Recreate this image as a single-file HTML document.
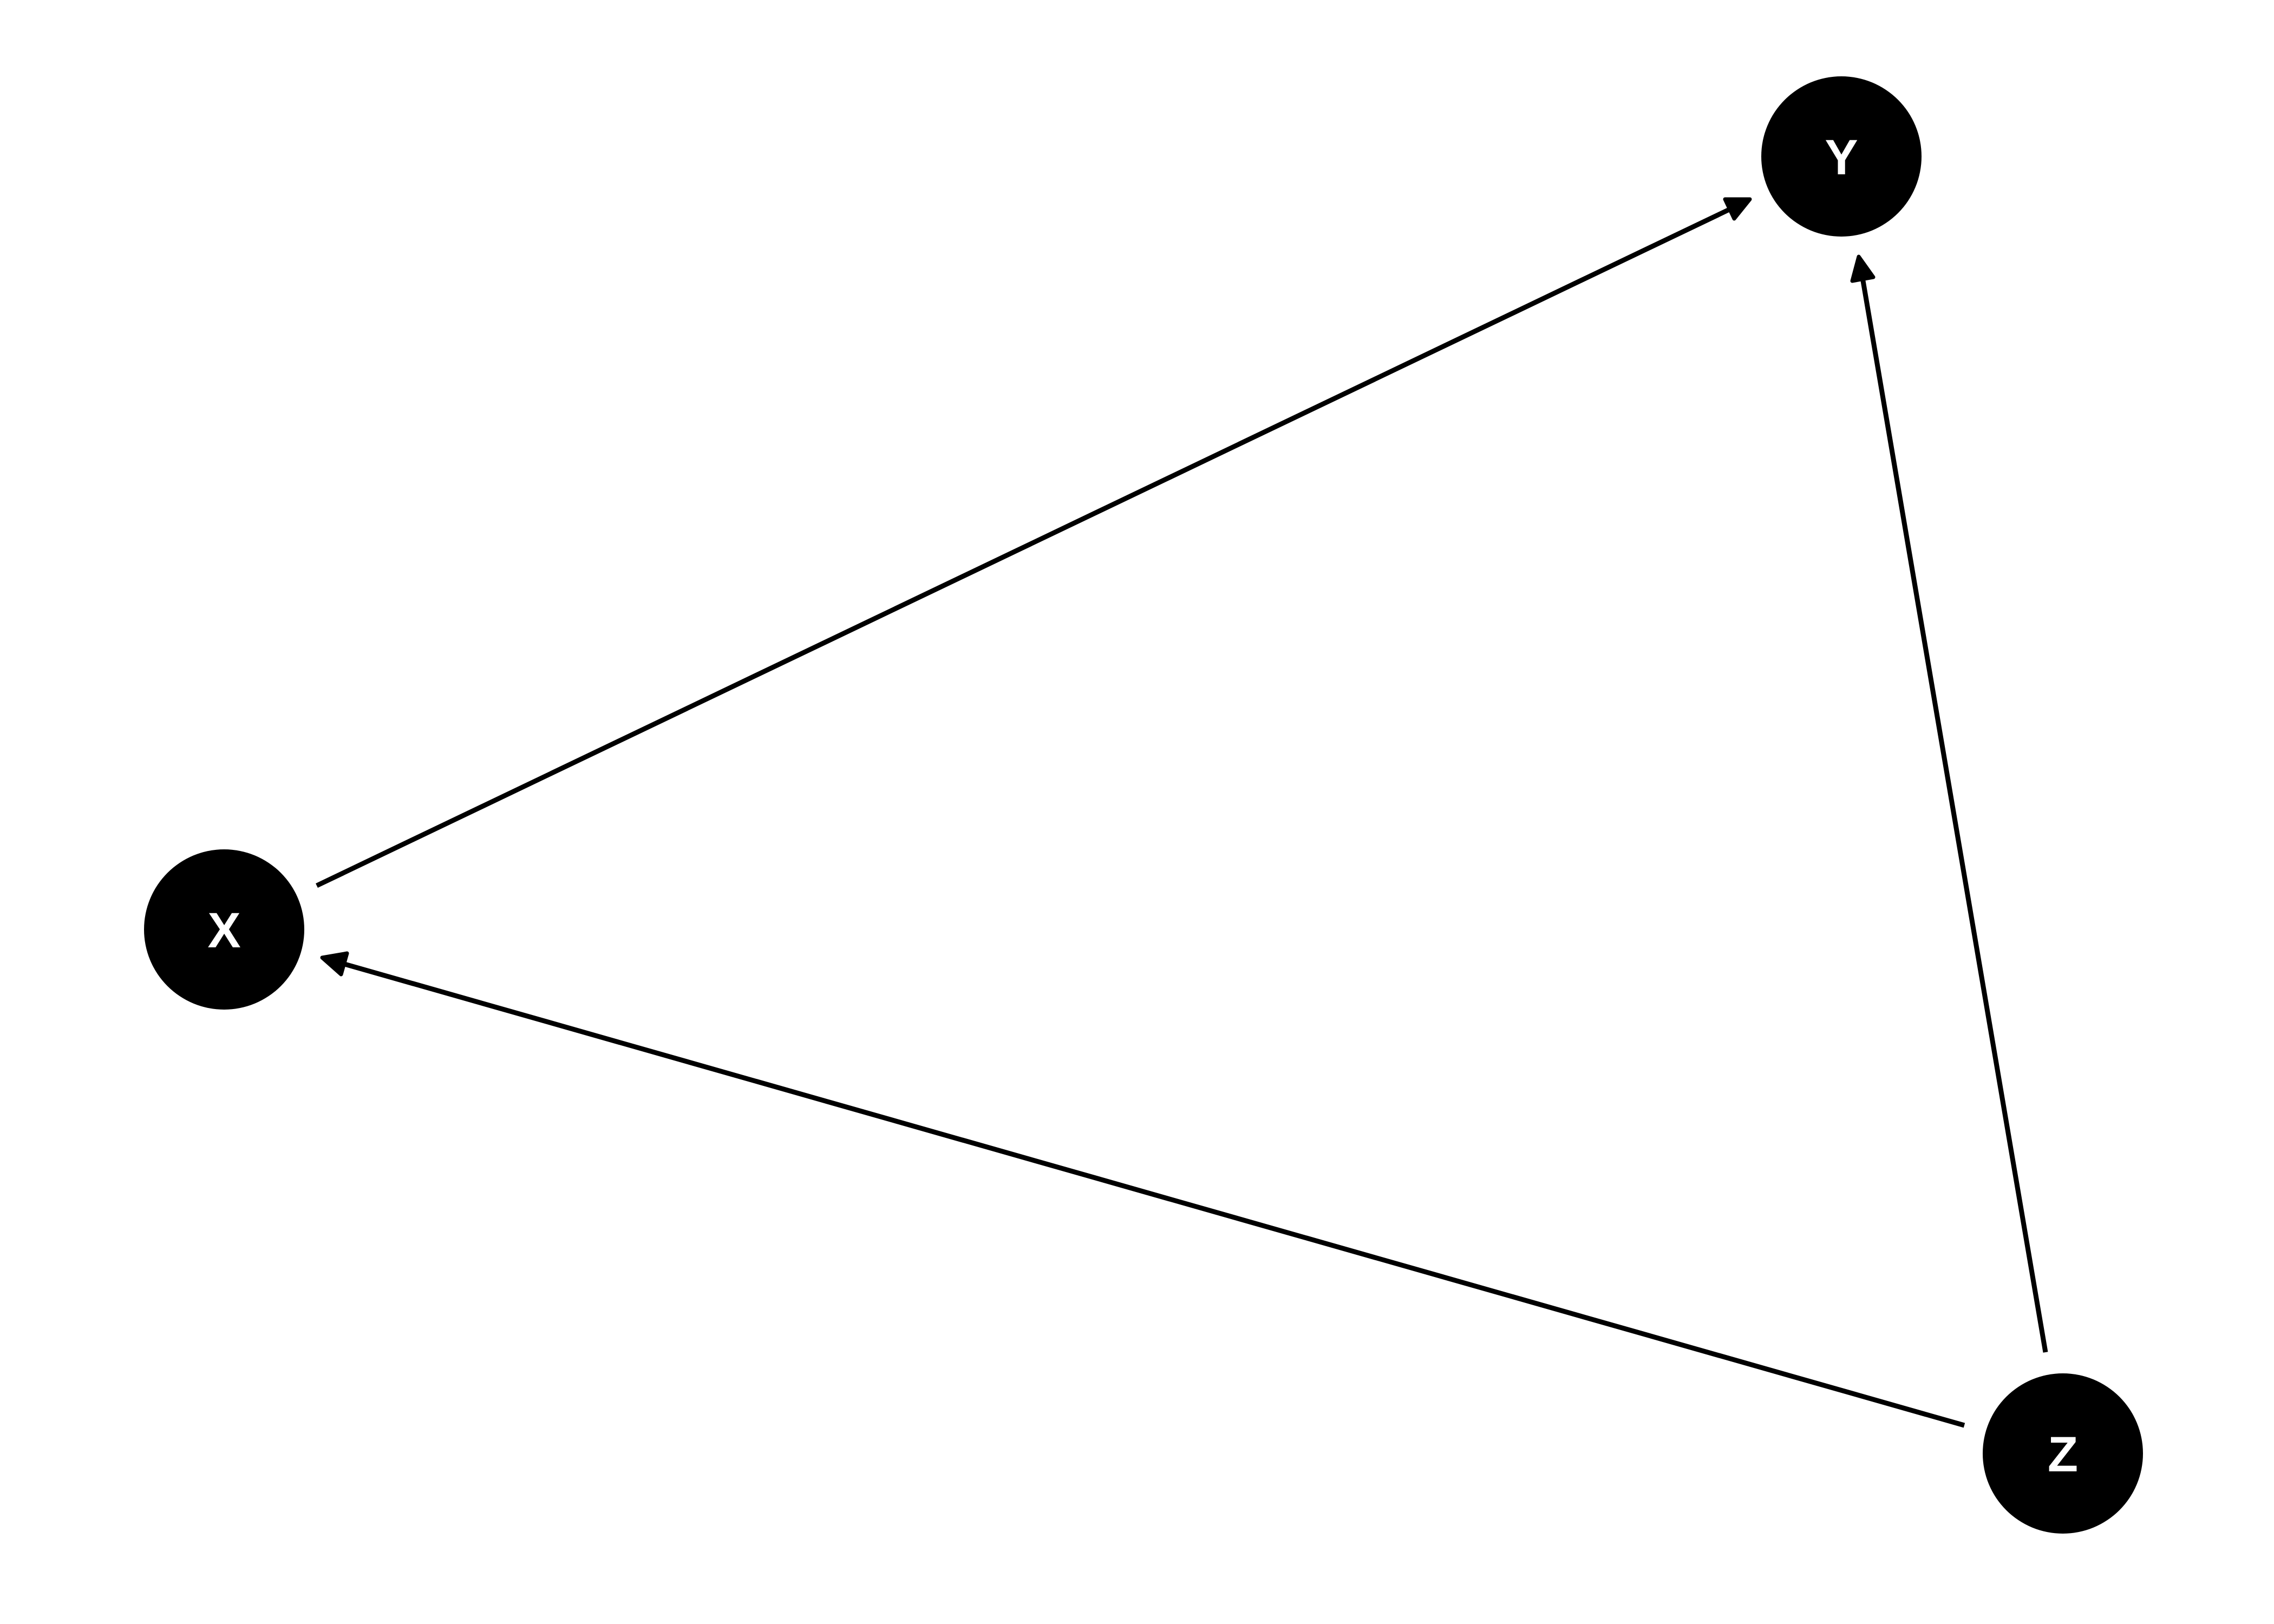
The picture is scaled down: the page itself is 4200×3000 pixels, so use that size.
<!DOCTYPE html>
<html><head><meta charset="utf-8"><style>
html,body{margin:0;padding:0;background:#fff;}
svg{display:block;}
</style></head><body>
<svg width="4200" height="3000" viewBox="0 0 4200 3000" xmlns="http://www.w3.org/2000/svg">
<g stroke="#000" stroke-width="9" fill="none">
<line x1="585" y1="1636" x2="3196" y2="386"/>
<line x1="3778" y1="2498" x2="3440" y2="513"/>
<line x1="3628" y1="2633" x2="633" y2="1780"/>
</g>
<g fill="#000" stroke="#000" stroke-width="7" stroke-linejoin="round">
<polygon points="3232,368 3203,404 3186,368"/>
<polygon points="3433,474 3460,512 3421,519"/>
<polygon points="595,1769 641,1761 630,1800"/>
</g>
<g fill="#000">
<circle cx="3401" cy="289" r="148"/>
<circle cx="414" cy="1717" r="148"/>
<circle cx="3810" cy="2685" r="148"/>
</g>
<g fill="#fff" font-family="Liberation Sans, sans-serif" font-weight="bold" font-size="92" text-anchor="middle">
<text x="3401" y="322">Y</text>
<text x="414" y="1750">X</text>
<text x="3810" y="2718">Z</text>
</g>
</svg>
</body></html>
